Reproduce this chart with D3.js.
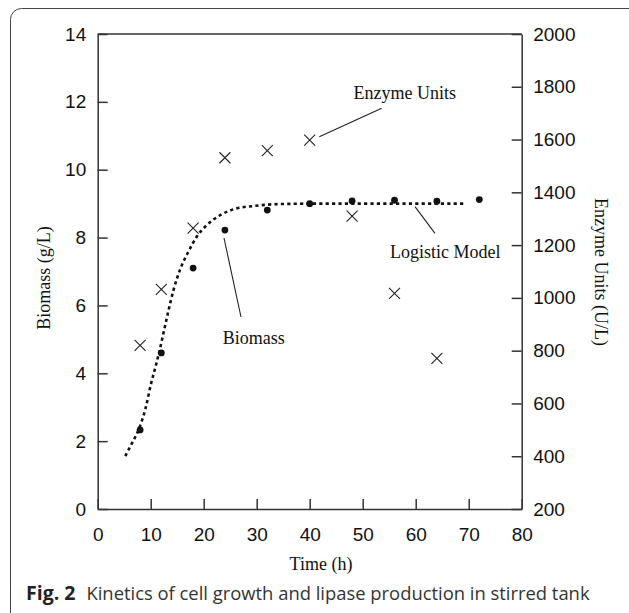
<!DOCTYPE html>
<html>
<head>
<meta charset="utf-8">
<script src="https://cdn.jsdelivr.net/npm/d3@7"></script>
<style>
html,body{margin:0;padding:0;background:#fff;}
svg{display:block;}
</style>
</head>
<body>
<svg id="chart" width="629" height="613"></svg>
<script>
// ---- data ----
const biomassTime = [8, 12, 18, 24, 32, 40, 48, 56, 64, 72];
const biomassValues = [2.33, 4.6, 7.1, 8.22, 8.81, 9.0, 9.08, 9.1, 9.07, 9.12];
const enzymeTime = [8, 12, 18, 24, 32, 40, 48, 56, 64];
const enzymeValues = [820, 1032, 1264, 1531, 1558, 1598, 1310, 1017, 771];
const modelTime = [5.2, 6.5, 7.7, 9, 10, 11, 11.6, 12.4, 13.3, 14.3, 15.5, 17.1, 18.7, 20.6, 23.1, 26.2, 29.4, 33.1, 40, 50, 60, 69];
const modelValues = [1.56, 1.95, 2.33, 2.95, 3.65, 4.25, 4.62, 5.18, 5.81, 6.45, 7.04, 7.58, 8.03, 8.37, 8.66, 8.86, 8.93, 8.98, 9.0, 9.0, 9.0, 9.0];
const xTicks = [0, 10, 20, 30, 40, 50, 60, 70, 80];
const leftTicks = [0, 2, 4, 6, 8, 10, 12, 14];
const rightTicks = [200, 400, 600, 800, 1000, 1200, 1400, 1600, 1800, 2000];

const svg = d3.select("#chart");
const L = 97.7, R = 521.7, T = 34, B = 509;
const x = d3.scaleLinear().domain([0, 80]).range([L, R]);
const yL = d3.scaleLinear().domain([0, 14]).range([B, T]);
const yR = d3.scaleLinear().domain([200, 2000]).range([B, T]);

// outer frame
svg.append("rect").attr("x", 10.5).attr("y", 8.5).attr("width", 640).attr("height", 640)
  .attr("rx", 11).attr("fill", "none").attr("stroke", "#444").attr("stroke-width", 1);

// axes
const tickFont = "'Liberation Sans', Arial, Helvetica, sans-serif";
const fmt = d3.format("d");
const gx = svg.append("g").attr("transform", `translate(0,${B})`)
  .call(d3.axisBottom(x).tickValues(xTicks).tickFormat(fmt).tickSizeInner(-10).tickSizeOuter(0).tickPadding(19));
const gl = svg.append("g").attr("transform", `translate(${L},0)`)
  .call(d3.axisLeft(yL).tickValues(leftTicks).tickFormat(fmt).tickSizeInner(-10).tickSizeOuter(0).tickPadding(11.5));
const gr = svg.append("g").attr("transform", `translate(${R},0)`)
  .call(d3.axisRight(yR).tickValues(rightTicks).tickFormat(fmt).tickSizeInner(-10).tickSizeOuter(0).tickPadding(11.5));
[gx, gl, gr].forEach(g => {
  g.attr("font-family", tickFont).attr("font-size", 19);
  g.selectAll("path.domain").attr("stroke", "#333").attr("stroke-width", 1.5);
  g.selectAll(".tick line").attr("stroke", "#333").attr("stroke-width", 1.5);
  g.selectAll("text").attr("font-family", tickFont).attr("font-size", 19).attr("fill", "#111");
});
gx.selectAll(".tick text").attr("dy", "0.71em");
// top border
svg.append("line").attr("x1", L).attr("x2", R).attr("y1", T).attr("y2", T)
  .attr("stroke", "#333").attr("stroke-width", 1.5);

const serif = "'Liberation Serif', 'Times New Roman', serif";
// axis titles
svg.append("text").attr("x", 321).attr("y", 570).attr("text-anchor", "middle")
  .attr("font-family", serif).attr("font-size", 18).attr("fill", "#111").text("Time (h)");
svg.append("text").attr("transform", "translate(50,278) rotate(-90)").attr("text-anchor", "middle")
  .attr("font-family", serif).attr("font-size", 18).attr("fill", "#111").text("Biomass (g/L)");
svg.append("text").attr("transform", "translate(595,272) rotate(90)").attr("text-anchor", "middle")
  .attr("font-family", serif).attr("font-size", 18).attr("fill", "#111").text("Enzyme Units (U/L)");

// logistic model curve
const line = d3.line().x((d, i) => x(modelTime[i])).y(d => yL(d)).curve(d3.curveMonotoneX);
svg.append("path").attr("d", line(modelValues)).attr("fill", "none")
  .attr("stroke", "#111").attr("stroke-width", 2.6).attr("stroke-dasharray", "3.2,3.2");

// biomass dots
svg.append("g").selectAll("circle").data(biomassValues).join("circle")
  .attr("cx", (d, i) => x(biomassTime[i])).attr("cy", d => yL(d)).attr("r", 3.4).attr("fill", "#111");

// enzyme crosses
const s = 5.5;
svg.append("g").selectAll("path").data(enzymeValues).join("path")
  .attr("d", (d, i) => {
    const cx = x(enzymeTime[i]), cy = yR(d);
    return `M${cx - s},${cy - s}L${cx + s},${cy + s}M${cx - s},${cy + s}L${cx + s},${cy - s}`;
  })
  .attr("stroke", "#222").attr("stroke-width", 1.1).attr("fill", "none");

// annotations
const ann = svg.append("g").attr("font-family", serif).attr("font-size", 18).attr("fill", "#111");
ann.append("text").attr("x", 353.5).attr("y", 98.5).text("Enzyme Units");
ann.append("text").attr("x", 390).attr("y", 258).text("Logistic Model");
ann.append("text").attr("x", 222.7).attr("y", 343.5).text("Biomass");
const leaders = svg.append("g").attr("stroke", "#222").attr("stroke-width", 1.1);
leaders.append("line").attr("x1", 381.7).attr("y1", 108.3).attr("x2", 319.3).attr("y2", 136.7);
leaders.append("line").attr("x1", 415).attr("y1", 206.7).attr("x2", 435).attr("y2", 233.3);
leaders.append("line").attr("x1", 224).attr("y1", 238).attr("x2", 241).attr("y2", 317);

// caption
const cap = svg.append("text").attr("x", 26).attr("y", 600)
  .attr("font-family", "'Open Sans', 'Noto Sans', sans-serif").attr("font-size", 18.4).attr("fill", "#333");
cap.append("tspan").attr("font-weight", "bold").attr("fill", "#222").attr("font-size", 19.5).text("Fig. 2");
cap.append("tspan").attr("dx", 11).text("Kinetics of cell growth and lipase production in stirred tank");
</script>
</body>
</html>
